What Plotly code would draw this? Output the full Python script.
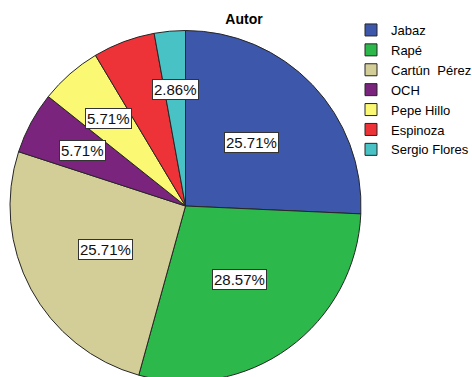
import numpy as np
import plotly.graph_objects as go

# Share of items per author (percent)
authors = ["Jabaz", "Rapé", "Cartún\u00a0 Pérez", "OCH", "Pepe Hillo", "Espinoza", "Sergio Flores"]
percent = [25.71, 28.57, 25.71, 5.71, 5.71, 5.71, 2.86]
colors = ["#3D57AB", "#2DB84C", "#D3CE97", "#7A247E", "#FBF873", "#EE3338", "#48C2C5"]

# Labels that are left off because they would collide with a neighbour
hidden_labels = {"Espinoza"}

W, H = 472, 383
cx, cy, r = 185.5, 206.0, 175.5  # pie centre and radius in pixels

fig = go.Figure(
    go.Pie(
        labels=authors,
        values=percent,
        sort=False,
        direction="clockwise",
        rotation=0,
        textinfo="none",
        hoverinfo="label+percent",
        marker=dict(colors=colors, line=dict(color="#262626", width=1)),
        domain=dict(x=[(cx - r) / W, (cx + r) / W],
                    y=[1 - (cy + r) / H, 1 - (cy - r) / H]),
    )
)

# Percentage labels in boxes, placed along each slice's bisector
vals = np.array(percent)
ends = np.cumsum(vals) / vals.sum() * 360.0
mids = ends - vals / vals.sum() * 180.0
for name, v, ang in zip(authors, percent, mids):
    if name in hidden_labels:
        continue
    frac = 0.52 if v > 20 else 0.665
    t = np.radians(ang)
    px = cx + frac * r * np.sin(t)
    py = cy - frac * r * np.cos(t)
    fig.add_annotation(
        x=px / W, y=1 - py / H, xref="paper", yref="paper",
        xanchor="center", yanchor="middle",
        text=f"{v:.2f}%", showarrow=False,
        font=dict(family="Arial, Liberation Sans", size=15, color="#111"),
        bgcolor="white", bordercolor="#333", borderwidth=1, borderpad=1,
    )

fig.update_layout(
    width=W, height=H,
    margin=dict(l=0, r=0, t=0, b=0, autoexpand=False),
    paper_bgcolor="white",
    title=dict(text="<b>Autor</b>", x=244 / W, y=1 - 19 / H,
               xanchor="center", yanchor="middle",
               font=dict(family="Arial, Liberation Sans", size=14, color="#000")),
    legend=dict(x=351 / W, y=1 - 15 / H, xanchor="left", yanchor="top",
                xref="container", yref="container",
                font=dict(family="Arial, Liberation Sans", size=13, color="#000"),
                itemwidth=30, bgcolor="rgba(0,0,0,0)"),
    showlegend=True,
)

fig.write_html("out.html", post_script="document.body.style.overflow='hidden';")
